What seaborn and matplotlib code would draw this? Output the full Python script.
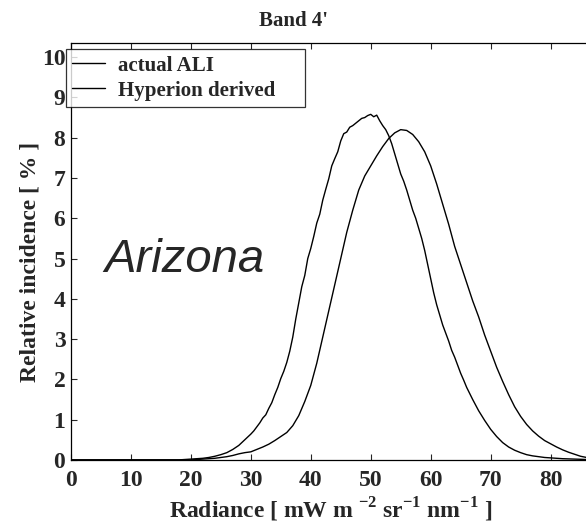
import numpy as np
import pandas as pd
import matplotlib
matplotlib.use("Agg")
import matplotlib.pyplot as plt
import seaborn as sns

# radiance grid [mW m-2 sr-1 nm-1] and relative incidence [%]
ali_x = [0, 5, 10, 15, 18, 19, 20, 21, 22, 23, 24, 25, 26, 27, 28, 29,
         30, 30.5, 31, 31.5, 32, 32.5, 33, 33.5, 34, 34.5, 35, 35.5, 36, 36.5,
         37, 37.5, 38, 38.5, 39, 39.5, 40, 40.5, 41, 41.5, 42, 42.5, 43, 43.5,
         44, 44.5, 45, 45.5, 46, 46.5, 47, 47.5, 48, 48.5, 49, 49.5, 50, 50.5,
         51, 51.5, 52, 52.5, 53, 53.5, 54, 54.5, 55, 55.5, 56, 56.5, 57, 57.5,
         58, 58.5, 59, 59.5, 60, 60.5, 61, 61.5, 62, 62.5, 63, 63.5, 64, 64.5,
         65, 65.5, 66, 67, 68, 69, 70, 71, 72, 73, 74, 75, 76, 77, 78, 79,
         80, 82, 84, 86]
ali_y = [0.0, 0.0, 0.0, 0.0, 0.0, 0.01, 0.02, 0.03, 0.04, 0.06, 0.09, 0.13, 0.18, 0.26, 0.36, 0.5,
         0.64, 0.72, 0.82, 0.92, 1.04, 1.12, 1.28, 1.42, 1.62, 1.8, 2.02, 2.2, 2.42, 2.7,
         3.05, 3.5, 3.9, 4.3, 4.58, 5.0, 5.25, 5.55, 5.88, 6.1, 6.45, 6.72, 6.98, 7.3,
         7.48, 7.65, 7.92, 8.1, 8.14, 8.26, 8.3, 8.36, 8.42, 8.48, 8.5, 8.55, 8.58, 8.52,
         8.56, 8.42, 8.3, 8.2, 8.05, 7.85, 7.6, 7.35, 7.1, 6.92, 6.7, 6.45, 6.2, 6.0,
         5.75, 5.5, 5.2, 4.85, 4.5, 4.15, 3.85, 3.6, 3.35, 3.15, 2.95, 2.72, 2.55, 2.35,
         2.15, 1.98, 1.8, 1.5, 1.22, 0.98, 0.76, 0.58, 0.43, 0.32, 0.24, 0.18, 0.13, 0.1, 0.08, 0.06,
         0.05, 0.03, 0.02, 0.01]

hyp_x = list(range(0, 87))
hyp_y = [0.0] * 21 + [0.01, 0.02, 0.03, 0.04, 0.06, 0.08, 0.11, 0.15, 0.18,
                      0.2, 0.26, 0.32, 0.39, 0.48, 0.58, 0.68, 0.85, 1.1, 1.45,
                      1.85, 2.4, 3.05, 3.7, 4.35, 5.0, 5.65, 6.2, 6.7, 7.05,
                      7.3, 7.55, 7.78, 7.98, 8.12, 8.2, 8.18, 8.08, 7.9, 7.65,
                      7.3, 6.85, 6.35, 5.85, 5.3, 4.85, 4.4, 3.95, 3.55, 3.1,
                      2.7, 2.3, 1.95, 1.62, 1.32, 1.08, 0.88, 0.72, 0.59, 0.48,
                      0.4, 0.32, 0.25, 0.19, 0.14, 0.09, 0.06]

series_names = ["actual ALI", "Hyperion derived"]
x_ticks = [0, 10, 20, 30, 40, 50, 60, 70, 80]
y_ticks = list(range(0, 11))

df = pd.concat([
    pd.DataFrame({"radiance": ali_x, "incidence": ali_y, "source": series_names[0]}),
    pd.DataFrame({"radiance": hyp_x, "incidence": hyp_y, "source": series_names[1]}),
], ignore_index=True)

sns.set_style("ticks")
plt.rcParams["font.family"] = ["Liberation Serif", "DejaVu Serif"]
plt.rcParams["font.weight"] = "bold"
plt.rcParams["mathtext.fontset"] = "custom"
plt.rcParams["mathtext.rm"] = "Liberation Serif:bold"
plt.rcParams["mathtext.bf"] = "Liberation Serif:bold"

fig = plt.figure(figsize=(5.86, 5.25), dpi=100)
ax = fig.add_axes([0.121, 0.124, 0.879, 0.794])

sns.lineplot(
    data=df,
    x="radiance",
    y="incidence",
    hue="source",
    palette=["black", "black"],
    linewidth=1.0,
    estimator=None,
    sort=False,
    ax=ax
)

ax.set_xlim(0, 85.9)
ax.set_ylim(0, 10.35)
ax.set_xticks(x_ticks)
ax.set_yticks(y_ticks)
ax.tick_params(direction="in", length=4, width=0.8, top=True, labelsize=17)
ax.tick_params(axis="x", pad=7)
ax.tick_params(axis="y", pad=4)
for lab in ax.get_xticklabels() + ax.get_yticklabels():
    lab.set_fontweight("bold")
ax.spines["right"].set_visible(False)
for s in ["left", "bottom", "top"]:
    ax.spines[s].set_linewidth(0.9)
    ax.spines[s].set_color("black")

ax.set_xlabel(r"Radiance [ mW m $^{\mathbf{-2}}$ sr$^{\mathbf{-1}}$ nm$^{\mathbf{-1}}$ ]",
              fontsize=17, fontweight="bold")
ax.set_ylabel("Relative incidence [ % ]", fontsize=17, fontweight="bold")
ax.xaxis.label.set_va("baseline")
ax.xaxis.set_label_coords(0.505, -0.139)
ax.yaxis.set_label_coords(-0.060, 0.475)
ax.set_title("Band 4'", fontsize=15, fontweight="bold", x=0.433, pad=12)

ax.text(5.5, 4.67, "Arizona", fontsize=34, style="italic",
        family=["Liberation Sans", "DejaVu Sans"], fontweight="normal")

leg = ax.legend(
    loc="upper left",
    bbox_to_anchor=(-0.01, 0.985, 0.465, 0.0),
    mode="expand",
    fontsize=15,
    frameon=True,
    fancybox=False,
    edgecolor="black",
    borderpad=0.3,
    handlelength=1.6,
    handletextpad=0.6,
    borderaxespad=0.0,
    labelspacing=0.25
)
leg.get_frame().set_linewidth(0.9)
for t in leg.get_texts():
    t.set_fontweight("bold")
for h in leg.get_lines():
    h.set_linewidth(1.0)

fig.savefig("out.png", dpi=100)
